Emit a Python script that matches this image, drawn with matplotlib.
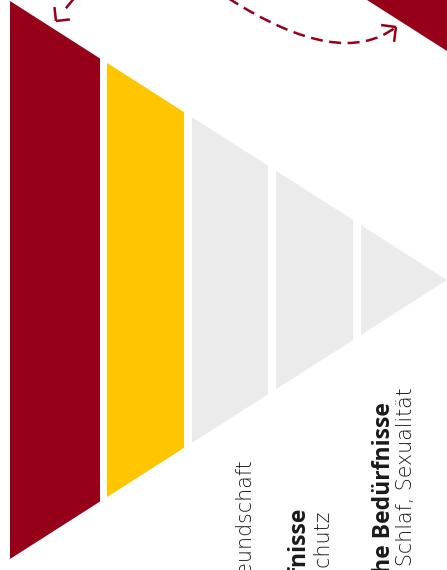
import matplotlib
matplotlib.use("Agg")
import matplotlib.pyplot as plt
import numpy as np
from matplotlib.path import Path
from matplotlib.patches import PathPatch, Polygon

# pyramid levels, bottom (left) to top (right)
levels = ["Physiologische Bedürfnisse", "Sicherheitsbedürfnisse", "Soziale Bedürfnisse",
          "Individualbedürfnisse", "Selbstverwirklichung"]
level_colors = ["#960018", "#FFC600", "#EBEBEB", "#EBEBEB", "#EBEBEB"]

# captions (bold title, light detail line)
cap_titles = ["Soziale Bedürfnisse", "Sicherheitsbedürfnisse", "Physiologische Bedürfnisse"]
cap_details = ["Familie, Freundschaft", "Wohnung, Arbeit, Schutz", "Essen, Trinken, Schlaf, Sexualität"]

RED = "#960018"

fig = plt.figure(figsize=(4.47, 5.70), dpi=100)
ax = fig.add_axes([0, 0, 1, 1])
ax.set_xlim(0, 447)
ax.set_ylim(570, 0)
ax.axis("off")

# pyramid geometry (pointing right)
x0, apex, yc, half = 10, 447, 280, 279
starts = [10, 107, 192, 276, 361]
ends = [100, 184, 268, 353, 447]


def hw(x):
    return half * (apex - x) / (apex - x0)


for i, name in enumerate(levels):
    a, b = starts[i], ends[i]
    pts = [(a, yc - hw(a)), (b, yc - hw(b)), (b, yc + hw(b)), (a, yc + hw(a))]
    ax.add_patch(Polygon(pts, closed=True, facecolor=level_colors[i], edgecolor="none"))

# corner of the next shape in the top right
ax.add_patch(Polygon([(367, 0), (447, 0), (447, 51)], closed=True, facecolor=RED, edgecolor="none"))

# dashed curved arrow
verts = [(228, -2), (340, 70), (396, 27)]
curve = Path(verts, [Path.MOVETO, Path.CURVE3, Path.CURVE3])
ax.add_patch(PathPatch(curve, facecolor="none", edgecolor=RED, lw=1.8,
                       linestyle=(0, (4.8, 2.6)), capstyle="butt"))


def head(tip, back, length=15):
    d = np.array(back, float) - np.array(tip, float)
    ang = np.arctan2(d[1], d[0])
    for s in (-1, 1):
        t = ang + s * np.pi / 4
        ax.plot([tip[0], tip[0] + length * np.cos(t)], [tip[1], tip[1] + length * np.sin(t)],
                color=RED, lw=1.8, solid_capstyle="butt")


head((396, 27), (340, 70))

# small dashed arrow top left
ax.plot([76, 62], [-4, 13], color=RED, lw=1.8, linestyle=(0, (4.8, 2.6)))
head((56, 21), (76, -4), length=14)

# captions, rotated
title_pos = [(227, 600), (305, 507), (390, 402)]
detail_pos = [(252, 460), (330, 512), (412, 387)]
for t, d, tp, dp in zip(cap_titles, cap_details, title_pos, detail_pos):
    ax.text(tp[0], tp[1], t, rotation=90, rotation_mode="anchor", ha="right", va="baseline",
            fontsize=16.5, fontweight="bold", family="Open Sans", color="#1a1a1a")
    ax.text(dp[0], dp[1], d, rotation=90, rotation_mode="anchor", ha="right", va="baseline",
            fontsize=14.8, fontweight="light", family="DejaVu Sans", color="#1a1a1a")

fig.savefig("out.png", dpi=100)
